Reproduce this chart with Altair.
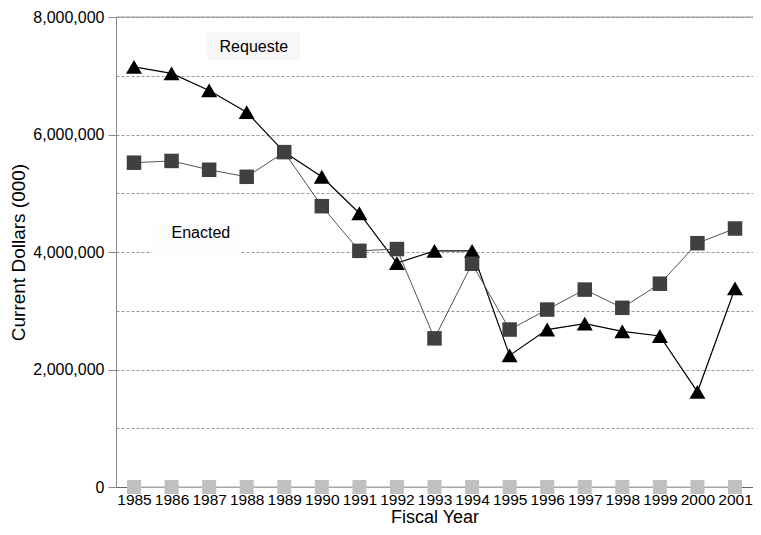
import altair as alt
import pandas as pd

years = list(range(1985, 2002))
requested = [7150000, 7040000, 6750000, 6380000, 5700000, 5280000, 4660000, 3810000,
             4020000, 4020000, 2240000, 2680000, 2780000, 2650000, 2570000, 1620000, 3380000]
enacted = [5520000, 5550000, 5400000, 5280000, 5700000, 4780000, 4020000, 4050000,
           2530000, 3800000, 2680000, 3020000, 3360000, 3050000, 3460000, 4150000, 4400000]
baseline = [0] * len(years)

label_text = ["Requeste", "Enacted"]
label_x = [1988.19, 1986.78]
label_y = [7490000, 4320000]
box_x1 = [1986.94, 1985.48]
box_x2 = [1989.42, 1987.82]
box_y1 = [7750000, 4470000]
box_y2 = [7270000, 3985000]
box_color = ["#f7f7f7", "#fdfdfd"]

y_ticks = [i * 1000000 for i in range(9)]

df = pd.DataFrame({"year": years, "requested": requested, "enacted": enacted, "base": baseline})
lab = pd.DataFrame({"text": label_text, "x": label_x, "y": label_y,
                    "x1": box_x1, "x2": box_x2, "y1": box_y1, "y2": box_y2, "c": box_color})
top = pd.DataFrame({"y": [8000000]})

FONT = "Liberation Sans"

xs = alt.Scale(domain=[1984.521, 2001.479], nice=False, zero=False)
ys = alt.Scale(domain=[0, 8000000], nice=False)

x_axis = alt.Axis(values=years, tickCount=40, format="d", title="Fiscal Year", grid=False,
                  labelFontSize=15.5, titleFontSize=18, labelFont=FONT, titleFont=FONT,
                  labelColor="#000", titleColor="#000", titleFontWeight="normal",
                  domainColor="#666", tickColor="#888", tickSize=4, labelPadding=1,
                  titlePadding=1, labelFlush=False, labelOverlap=False, labelSeparation=0)
y_axis = alt.Axis(values=y_ticks, tickCount=20, title="Current Dollars (000)",
                  labelExpr="datum.value % 2000000 === 0 ? format(datum.value, ',') : ''",
                  tickOpacity={"condition": {"test": "datum.value % 2000000 === 0", "value": 1}, "value": 0},
                  grid=True, gridDash=[3, 2], gridColor="#999", gridWidth=1,
                  labelFontSize=16, titleFontSize=19, labelFont=FONT, titleFont=FONT,
                  labelColor="#000", titleColor="#000", titleFontWeight="normal",
                  domainColor="#888", tickColor="#888", tickSize=8, labelPadding=4,
                  titlePadding=4, labelFlush=False, labelOverlap=False)

X = alt.X("year:Q", scale=xs, axis=x_axis)
Y_base = alt.Y("base:Q", scale=ys, axis=y_axis)

base = alt.Chart(df)

base_line = base.mark_line(color="#c0c0c0", strokeWidth=1.5).encode(x=X, y=Y_base)
base_pts = base.mark_point(shape="square", filled=True, size=196, color="#c0c0c0", opacity=1).encode(
    x=X, y=Y_base)

top_rule = alt.Chart(top).mark_rule(color="#999", strokeWidth=1).encode(
    y=alt.Y("y:Q", scale=ys))

boxes = alt.Chart(lab).mark_rect().encode(
    x=alt.X("x1:Q", scale=xs), x2="x2:Q",
    y=alt.Y("y1:Q", scale=ys), y2="y2:Q",
    color=alt.Color("c:N", scale=None))

texts = alt.Chart(lab).mark_text(font=FONT, fontSize=16, color="#000").encode(
    x=alt.X("x:Q", scale=xs), y=alt.Y("y:Q", scale=ys), text="text:N")

req_line = base.mark_line(color="#000", strokeWidth=1.2).encode(
    x=X, y=alt.Y("requested:Q", scale=ys))
req_pts = base.mark_point(shape="triangle-up", filled=True, size=256, color="#000", opacity=1).encode(
    x=X, y=alt.Y("requested:Q", scale=ys))

enc_line = base.mark_line(color="#555", strokeWidth=1).encode(
    x=X, y=alt.Y("enacted:Q", scale=ys))
enc_pts = base.mark_point(shape="square", filled=True, size=210, color="#404040", opacity=1).encode(
    x=X, y=alt.Y("enacted:Q", scale=ys))

chart = alt.layer(
    base_line, top_rule, boxes, texts, base_pts, req_line, enc_line, req_pts, enc_pts
).properties(
    width=637, height=470,
    autosize=alt.AutoSizeParams(type="none"),
    padding={"left": 108, "top": 9, "right": 0, "bottom": 40},
).configure_view(stroke=None).configure(background="#ffffff").configure_axisX(labelOverlap=False)

chart.save("out.html", embed_options={"renderer": "svg", "actions": False})
